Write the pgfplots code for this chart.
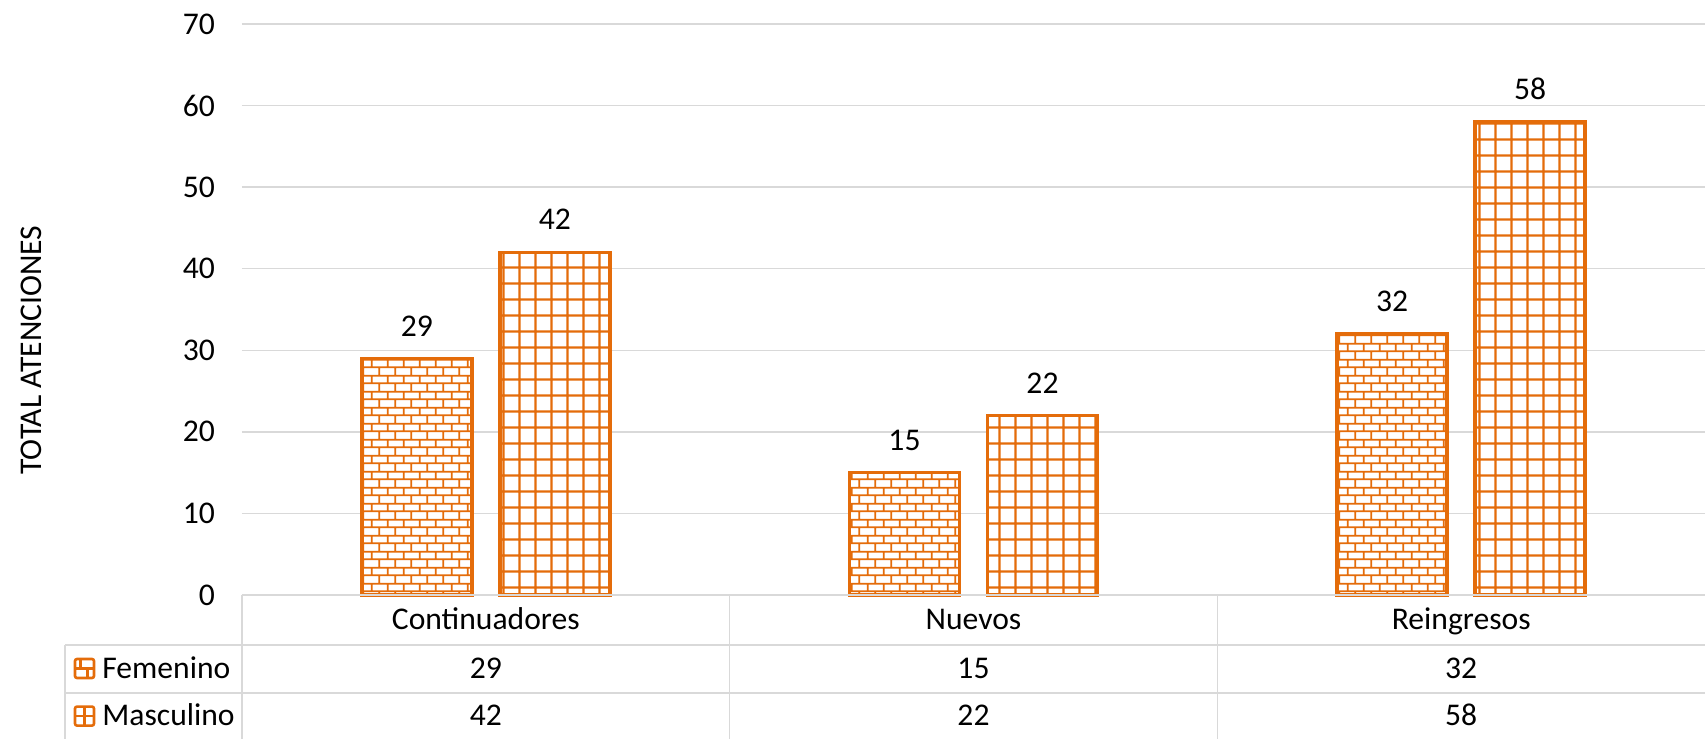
\documentclass[border=0pt]{standalone}
\usepackage{fontspec}
\setmainfont{Carlito}
\usepackage{pgfplots}
\pgfplotsset{compat=1.18}
\usetikzlibrary{patterns.meta}

\definecolor{naranja}{HTML}{E46C0A}
\definecolor{rejilla}{HTML}{D9D9D9}

% ladrillos (Femenino)
\tikzdeclarepattern{
  name=ladrillo,
  type=uncolored,
  bounding box={(0pt,0pt) and (8pt,8pt)},
  tile size={(8pt,8pt)},
  code={
    \draw[line width=0.95pt] (-0.5pt,2pt) -- (8.5pt,2pt) (-0.5pt,6pt) -- (8.5pt,6pt)
      (2pt,2pt) -- (2pt,6pt) (6pt,6pt) -- (6pt,8.5pt) (6pt,-0.5pt) -- (6pt,2pt);
  }
}
% cuadricula (Masculino)
\tikzdeclarepattern{
  name=cuadricula,
  type=uncolored,
  bounding box={(0pt,0pt) and (8pt,8pt)},
  tile size={(8pt,8pt)},
  code={
    \draw[line width=1.15pt] (-0.5pt,4pt) -- (8.5pt,4pt) (4pt,-0.5pt) -- (4pt,8.5pt);
  }
}

\begin{document}
\begin{tikzpicture}[font=\fontsize{15.8}{19}\selectfont]
\useasboundingbox (0,0) rectangle (852.5pt,369.5pt);
\begin{axis}[
    at={(121pt,72pt)}, anchor=south west,
    scale only axis,
    width=731.5pt, height=285.5pt,
    xmin=-0.5, xmax=2.5,
    ymin=0, ymax=70,
    ytick={0,10,...,70},
    xtick={0,1,2},
    xticklabels={},
    axis line style={draw=none},
    tick style={draw=none},
    major tick length=0pt,
    ymajorgrids,
    grid style={rejilla, line width=0.75pt},
    yticklabel style={xshift=-10pt},
    /pgf/number format/assume math mode=true,
    ylabel={TOTAL ATENCIONES},
    ylabel style={at={(axis description cs:-0.1442,0.429)}, anchor=center},
    clip=false,
    nodes near coords,
]
\addplot[ybar, bar width=55pt, bar shift=-34.5pt, draw=naranja, line width=1.75pt,
    fill=white, postaction={pattern=ladrillo, pattern color=naranja},
    nodes near coords style={text=black, yshift=7pt, xshift=-34.5pt}]
    coordinates {(0,29) (1,15) (2,32)};
\addplot[ybar, bar width=55pt, bar shift=34.5pt, draw=naranja, line width=1.75pt,
    fill=white, postaction={pattern=cuadricula, pattern color=naranja},
    nodes near coords style={text=black, yshift=7pt, xshift=34.5pt}]
    coordinates {(0,42) (1,22) (2,58)};
\end{axis}

% tabla de datos
\begin{scope}[rejilla, line width=0.75pt]
  \draw (121pt,72pt) -- (852.5pt,72pt);
  \draw (32.5pt,47pt) -- (852.5pt,47pt);
  \draw (32.5pt,23pt) -- (852.5pt,23pt);
  \draw (32.5pt,0pt) -- (32.5pt,47pt);
  \draw (121pt,0pt) -- (121pt,72pt);
  \draw (364.8pt,0pt) -- (364.8pt,72pt);
  \draw (608.7pt,0pt) -- (608.7pt,72pt);
\end{scope}

\begin{scope}[every node/.style={inner sep=0pt, anchor=base}]
  \node at (242.9pt,54.5pt) {Continuadores};
  \node at (486.75pt,54.5pt) {Nuevos};
  \node at (730.6pt,54.5pt) {Reingresos};
  \node at (242.9pt,30pt) {29};
  \node at (486.75pt,30pt) {15};
  \node at (730.6pt,30pt) {32};
  \node at (242.9pt,6.5pt) {42};
  \node at (486.75pt,6.5pt) {22};
  \node at (730.6pt,6.5pt) {58};
  \node[anchor=base west] at (51pt,30pt) {Femenino};
  \node[anchor=base west] at (51pt,6.5pt) {Masculino};
\end{scope}

% iconos de leyenda
\begin{scope}[naranja, line width=1.3pt]
  \draw[rounded corners=1pt] (37.5pt,30.5pt) rectangle (47pt,40pt);
  \draw (37.5pt,35.25pt) -- (47pt,35.25pt);
  \draw (40.2pt,35.25pt) -- (40.2pt,40pt);
  \draw (43.6pt,30.5pt) -- (43.6pt,35.25pt);
  \draw[rounded corners=1pt] (37.5pt,6.7pt) rectangle (47pt,16.2pt);
  \draw (37.5pt,11.45pt) -- (47pt,11.45pt);
  \draw (42.25pt,6.7pt) -- (42.25pt,16.2pt);
\end{scope}
\end{tikzpicture}
\end{document}
